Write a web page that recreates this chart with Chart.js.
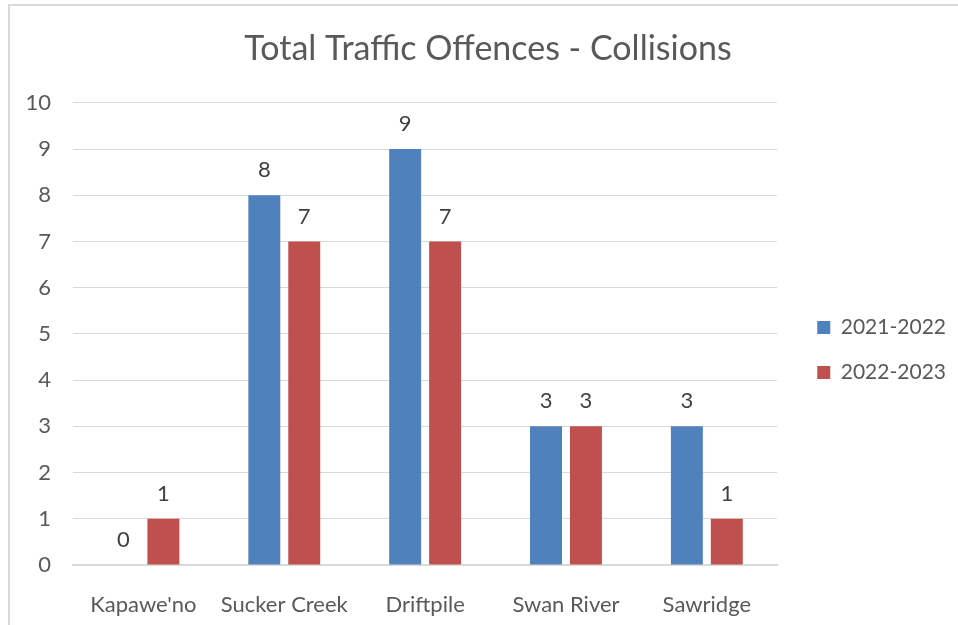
<!DOCTYPE html>
<html>
<head>
<meta charset="utf-8">
<script src="https://cdn.jsdelivr.net/npm/chart.js@4/dist/chart.umd.min.js"></script>
<style>
  html, body { margin: 0; padding: 0; background: #fff; overflow: hidden; }
  #frame { position: absolute; left: 8px; top: 4px; width: 1000px; height: 700px; border: 2px solid #d9d9d9; }
  #wrap { position: absolute; left: 0; top: 0; width: 958px; height: 625px; }
</style>
</head>
<body>
<div id="frame"></div>
<div id="wrap"><canvas id="chartCollisions"></canvas></div>
<script>
// data
const Comunidades = ["Kapawe'no", 'Sucker Creek', 'Driftpile', 'Swan River', 'Sawridge'];
const Periodo1 = '2021-2022';
const Periodo2 = '2022-2023';
const Valores1 = [0, 8, 9, 3, 3];
const Valores2 = [1, 7, 7, 3, 1];
const TicksY = [0, 1, 2, 3, 4, 5, 6, 7, 8, 9, 10];

const FONT = 'Lato, "Open Sans", sans-serif';
const GRIS = '#595959';

// etiquetas encima de cada barra
const etiquetasBarras = {
    id: 'etiquetasBarras',
    afterDatasetsDraw(chart) {
        const ctx = chart.ctx;
        ctx.save();
        ctx.font = '22px ' + FONT;
        ctx.fillStyle = '#404040';
        ctx.textAlign = 'center';
        ctx.textBaseline = 'bottom';
        chart.data.datasets.forEach((ds, i) => {
            chart.getDatasetMeta(i).data.forEach((bar, j) => {
                ctx.fillText(ds.data[j], bar.x, bar.y - 14);
            });
        });
        ctx.restore();
    }
};

// leyenda mas ancha y separada del area del grafico
const ajustarLeyenda = {
    id: 'ajustarLeyenda',
    afterInit(chart) {
        const lg = chart.legend;
        const fitOrig = lg.fit.bind(lg);
        lg.fit = () => { fitOrig(); lg.width += 18; };
    },
    afterLayout(chart) {
        chart.legend.left += 16;
        chart.legend.right += 16;
    }
};

new Chart(document.getElementById('chartCollisions'), {
    type: 'bar',
    data: {
        labels: Comunidades,
        datasets: [{
            label: Periodo1,
            data: Valores1,
            backgroundColor: '#4F81BD',
            categoryPercentage: 0.567,
            barPercentage: 0.8
        }, {
            label: Periodo2,
            data: Valores2,
            backgroundColor: '#C0504D',
            categoryPercentage: 0.567,
            barPercentage: 0.8
        }]
    },
    options: {
        responsive: true,
        maintainAspectRatio: false,
        animation: false,
        layout: { padding: { left: 18, right: 0, top: 0, bottom: 0 } },
        plugins: {
            title: {
                display: true,
                text: 'Total Traffic Offences - Collisions',
                color: GRIS,
                font: { family: FONT, size: 34, weight: 'normal' },
                padding: { top: 29, bottom: 33 }
            },
            legend: {
                position: 'right',
                title: { display: true, text: '', font: { size: 1 }, padding: { top: 74, bottom: 0 } },
                labels: {
                    color: GRIS,
                    font: { family: FONT, size: 21 },
                    boxWidth: 13,
                    boxHeight: 13,
                    padding: 24
                }
            },
            tooltip: { enabled: false }
        },
        scales: {
            x: {
                grid: { display: false },
                border: { color: '#d9d9d9', width: 2 },
                ticks: { color: GRIS, font: { family: FONT, size: 22 }, padding: 19, maxRotation: 0 },
                afterFit: (scale) => { scale.height = 60; }
            },
            y: {
                min: 0,
                max: 10,
                afterBuildTicks: (scale) => { scale.ticks = TicksY.map(v => ({ value: v })); },
                grid: { color: '#d9d9d9', drawTicks: false },
                border: { display: false },
                ticks: { color: GRIS, font: { family: FONT, size: 22 }, padding: 22 },
                afterFit: (scale) => { scale.width = 55; }
            }
        }
    },
    plugins: [etiquetasBarras, ajustarLeyenda]
});
</script>
</body>
</html>
